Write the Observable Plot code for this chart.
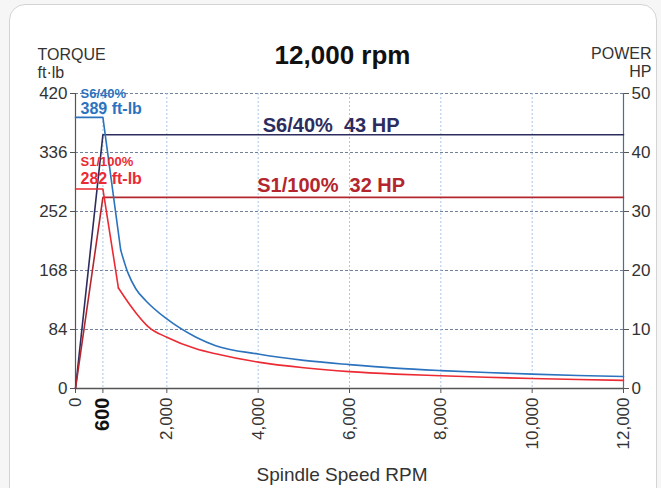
<!DOCTYPE html>
<html><head><meta charset="utf-8">
<script src="https://cdn.jsdelivr.net/npm/d3@7"></script>
<script src="https://cdn.jsdelivr.net/npm/@observablehq/plot@0.6"></script>
<style>
body{margin:0;background:#f6f6f6;}
#wrap{position:relative;width:661px;height:488px;overflow:hidden;background:#f6f6f6;}
#panel{position:absolute;left:9px;top:4px;width:646px;height:520px;background:#fff;border:1px solid #d4d4d4;border-radius:16px;}
#chart{position:absolute;left:0;top:0;}
</style></head><body>
<div id="wrap"><div id="panel"></div><div id="chart"></div></div>
<script>
// ---- data ----
const s6Rpm    = [0,600,990,1140,1320,1540,2000,2640,3070,4000,5000,6000,7000,8000,9000,10000,11000,12000];
const s6Torque = [386,386,197,166,142,125,99,73,61,49,40,34,29,25.5,22.7,20.4,18.5,17];
const s1Rpm    = [0,600,940,1170,1320,1610,2000,2640,3070,4000,5000,6000,7000,8000,9000,10000,11000,12000];
const s1Torque = [284,284,143,121,108,87,73,56.5,49.4,37.5,29.5,24,20.5,18.2,16,14.2,12.8,11.6];
const powerRpm = [0,600,12000];
const s6Power  = [0,43,43];
const s1Power  = [0,32.4,32.4];
const torqueTicks = [0,84,168,252,336,420];
const powerTicks  = [0,10,20,30,40,50];
const rpmTicks    = [0,600,2000,4000,6000,8000,10000,12000];
const title = "12,000 rpm";
const xLabel = "Spindle Speed RPM";
const leftTitle = "TORQUE\nft·lb";
const rightTitle = "POWER\nHP";
const s6Name = "S6/40%", s6PeakLabel = "389 ft-lb", s6PowerLabel = "S6/40%\u00a0\u00a043 HP";
const s1Name = "S1/100%", s1PeakLabel = "282 ft-lb", s1PowerLabel = "S1/100%\u00a0\u00a032 HP";

const K = 420 / 50; // HP -> shared y scale units
const zip = (xs, ys) => xs.map((x, i) => ({rpm: x, v: ys[i]}));
const s6T = zip(s6Rpm, s6Torque), s1T = zip(s1Rpm, s1Torque);
const s6P = zip(powerRpm, s6Power), s1P = zip(powerRpm, s1Power);

const BLUE = "#2b73be", RED = "#ec2a33", NAVY = "#2c2d5e", DRED = "#b3262d", INK = "#333";
const fmt = d3.format(",");

const chart = Plot.plot({
  width: 661, height: 488,
  marginLeft: 75, marginRight: 38, marginTop: 93, marginBottom: 100,
  x: {domain: [0, 12000]},
  y: {domain: [0, 420]},
  style: {fontFamily: "'Liberation Sans', Arial, sans-serif", background: "transparent", color: INK, overflow: "visible"},
  marks: [
    Plot.ruleY(torqueTicks.slice(1), {stroke: "#71819a", strokeDasharray: "3,2", strokeWidth: 1}),
    Plot.ruleX(rpmTicks.slice(1, -1), {stroke: "#a9c7ea", strokeDasharray: "2,2", strokeWidth: 1}),
    Plot.ruleX([12000], {stroke: "#4d6c9a", strokeWidth: 1.2}),
    Plot.ruleX([0], {stroke: "#555", strokeWidth: 1.2}),
    Plot.ruleY([0], {stroke: "#555", strokeWidth: 1.5}),
    Plot.axisY(torqueTicks, {anchor: "left", tickSize: 5, tickPadding: 3, fontSize: 17, label: null, tickFormat: d => d, stroke: "#555", fill: INK}),
    Plot.axisY(powerTicks.map(p => p * K), {anchor: "right", tickSize: 5, tickPadding: 3, fontSize: 17, label: null, tickFormat: d => Math.round(d / K), stroke: "#555", fill: INK}),
    Plot.axisX(rpmTicks.filter(d => d !== 600), {anchor: "bottom", tickSize: 5, tickPadding: 4, tickRotate: -90, textAnchor: "end", lineAnchor: "middle", fontSize: 17, label: null, tickFormat: fmt, stroke: "#555", fill: INK}),
    Plot.axisX([600], {anchor: "bottom", tickSize: 5, tickPadding: 4, tickRotate: -90, textAnchor: "end", lineAnchor: "middle", fontSize: 20, fontWeight: "bold", label: null, tickFormat: fmt, stroke: "#555", fill: "#111"}),
    // power lines
    Plot.line(s6P, {x: "rpm", y: d => d.v * K, stroke: NAVY, strokeWidth: 1.6}),
    Plot.line(s1P, {x: "rpm", y: d => d.v * K, stroke: DRED, strokeWidth: 1.6}),
    // torque lines
    Plot.line(s6T.slice(0, 3), {x: "rpm", y: "v", stroke: BLUE, strokeWidth: 1.6}),
    Plot.line(s6T.slice(2), {x: "rpm", y: "v", stroke: BLUE, strokeWidth: 1.6, curve: "monotone-x"}),
    Plot.line(s1T.slice(0, 3), {x: "rpm", y: "v", stroke: RED, strokeWidth: 1.6}),
    Plot.line(s1T.slice(2), {x: "rpm", y: "v", stroke: RED, strokeWidth: 1.6, curve: "monotone-x"}),
    // annotations
    Plot.text([s6Name], {x: 0, y: s6Torque[0], dx: 5, dy: -19, text: d => d, textAnchor: "start", lineAnchor: "bottom", fontSize: 13, fontWeight: "bold", fill: BLUE}),
    Plot.text([s6PeakLabel], {x: 0, y: s6Torque[0], dx: 5, dy: -3, text: d => d, textAnchor: "start", lineAnchor: "bottom", fontSize: 16, fontWeight: "bold", fill: BLUE}),
    Plot.text([s1Name], {x: 0, y: s1Torque[0], dx: 5, dy: -23, text: d => d, textAnchor: "start", lineAnchor: "bottom", fontSize: 13, fontWeight: "bold", fill: RED}),
    Plot.text([s1PeakLabel], {x: 0, y: s1Torque[0], dx: 5, dy: -5, text: d => d, textAnchor: "start", lineAnchor: "bottom", fontSize: 16, fontWeight: "bold", fill: RED}),
    Plot.text([s6PowerLabel], {x: 4100, y: s6Power[1] * K, dy: -3, text: d => d, textAnchor: "start", lineAnchor: "bottom", fontSize: 20, fontWeight: "bold", fill: NAVY}),
    Plot.text([s1PowerLabel], {x: 3980, y: s1Power[1] * K, dy: -5, text: d => d, textAnchor: "start", lineAnchor: "bottom", fontSize: 20, fontWeight: "bold", fill: DRED}),
    // titles
    Plot.text([title], {frameAnchor: "top", dx: -7, dy: -30, text: d => d, lineAnchor: "bottom", fontSize: 26, fontWeight: "bold", fill: "#111"}),
    Plot.text([leftTitle], {frameAnchor: "top-left", dx: -38, dy: -16, text: d => d, textAnchor: "start", lineAnchor: "bottom", lineHeight: 1.125, fontSize: 16, fill: INK}),
    Plot.text([rightTitle], {frameAnchor: "top-right", dx: 28, dy: -17, text: d => d, textAnchor: "end", lineAnchor: "bottom", lineHeight: 1.125, fontSize: 16, fill: INK}),
    Plot.text([xLabel], {frameAnchor: "bottom", dx: -7.5, dy: 92, text: d => d, lineAnchor: "bottom", fontSize: 19, fill: INK})
  ]
});
document.getElementById("chart").appendChild(chart);
</script>
</body></html>
